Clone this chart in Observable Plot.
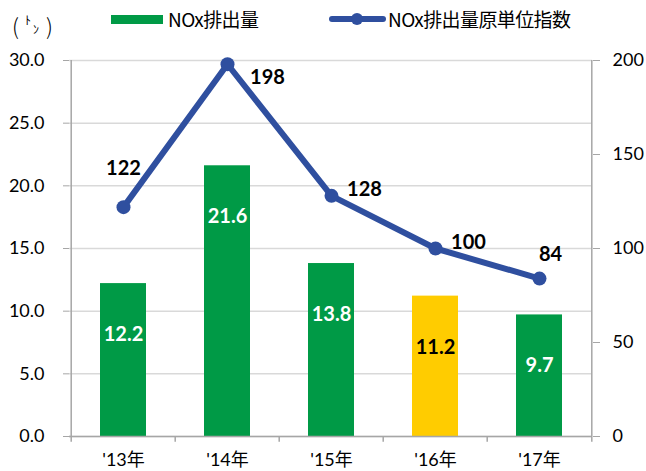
<!DOCTYPE html>
<html>
<head>
<meta charset="utf-8">
<script src="https://cdn.jsdelivr.net/npm/d3@7"></script>
<script src="https://cdn.jsdelivr.net/npm/@observablehq/plot@0.6"></script>
<style>
  html, body { margin: 0; padding: 0; background: #fff; }
  #wrap { position: relative; width: 646px; height: 471px; overflow: hidden; font-family: Lato, "Noto Sans CJK JP", sans-serif; }
  #legend { position: absolute; left: 0; top: 0; width: 646px; height: 45px; }
  #legend .t { position: absolute; font-size: 19px; line-height: 20px; color: #000; white-space: nowrap; font-family: "Noto Sans CJK JP", sans-serif; letter-spacing: -0.6px; }
  #legend .u { position: absolute; color: #000; white-space: nowrap; font-family: "Noto Sans CJK JP", sans-serif; }
  #chart { position: absolute; left: 0; top: 45px; }
</style>
</head>
<body>
<div id="wrap">
  <div id="legend">
    <div class="u" style="left:12px; top:12px; font-size:22px; line-height:26px; font-weight:300;">(</div>
    <div class="u" style="left:25px; top:14px; font-size:12px; line-height:12px;">ﾄ</div>
    <div class="u" style="left:33px; top:23px; font-size:12px; line-height:12px;">ﾝ</div>
    <div class="u" style="left:46px; top:12px; font-size:22px; line-height:26px; font-weight:300;">)</div>
    <div style="position:absolute; left:111px; top:15px; width:52px; height:9px; background:#009A46;"></div>
    <div class="t" style="left:168px; top:9px;">NOx排出量</div>
    <div style="position:absolute; left:329px; top:16px; width:57px; height:6px; background:#2F4F9F; border-radius:3px;"></div>
    <div style="position:absolute; left:351px; top:13px; width:12px; height:12px; background:#2F4F9F; border-radius:50%;"></div>
    <div class="t" style="left:388px; top:9px;">NOx排出量原単位指数</div>
  </div>
  <div id="chart"></div>
</div>
<script>
const years = ["'13年", "'14年", "'15年", "'16年", "'17年"];
const noxTons = [12.2, 21.6, 13.8, 11.2, 9.7];
const noxIndex = [122, 198, 128, 100, 84];
const leftTicks = [0, 5, 10, 15, 20, 25, 30];
const rightTicks = [0, 50, 100, 150, 200];
const highlightYear = "'16年";

const GREEN = "#009A46", YELLOW = "#FFCC00", BLUE = "#2F4F9F", AXIS = "#a6a6a6", GRID = "#d9d9d9";
const ratio = 30 / 200;
const data = years.map((year, i) => ({year, tons: noxTons[i], index: noxIndex[i], i}));

const width = 646, height = 426, mL = 69, mR = 54, mT = 15, mB = 35;
const pIn = 0.56, pOut = 0.28;
const step = (width - mL - mR) / (years.length - pIn + 2 * pOut);
const half = step / 2;

const labelFont = {fontSize: 20, fontWeight: "bold", fontFamily: "Lato, 'Noto Sans CJK JP', sans-serif"};

const chart = Plot.plot({
  width, height,
  marginLeft: mL, marginRight: mR, marginTop: mT, marginBottom: mB,
  style: {fontFamily: "Lato, 'Noto Sans CJK JP', sans-serif", background: "#fff", overflow: "visible"},
  x: {type: "band", domain: years, paddingInner: pIn, paddingOuter: pOut, label: null},
  y: {domain: [0, 30], label: null},
  marks: [
    Plot.gridY(leftTicks, {stroke: GRID, strokeOpacity: 1, strokeWidth: 1.5}),
    Plot.barY(data, {x: "year", y: "tons", fill: d => d.year === highlightYear ? YELLOW : GREEN}),
    // frame lines
    Plot.ruleY([0], {stroke: AXIS, strokeWidth: 1.5}),
    Plot.ruleX([years[0]], {y1: 0, y2: 30, dx: -half, stroke: AXIS, strokeWidth: 1.5}),
    Plot.ruleX([years[years.length - 1]], {y1: 0, y2: 30, dx: half, stroke: AXIS, strokeWidth: 1.5}),
    // category boundary ticks
    Plot.ruleX(years, {y1: 0, y2: -0.45, dx: -half, stroke: AXIS, strokeWidth: 1.5}),
    Plot.ruleX([years[years.length - 1]], {y1: 0, y2: -0.45, dx: half, stroke: AXIS, strokeWidth: 1.5}),
    Plot.axisY(leftTicks, {anchor: "left", tickSize: 6, tickPadding: 19, stroke: AXIS, fill: "#000", fontSize: 18, tickFormat: d => d.toFixed(1)}),
    Plot.axisY(rightTicks.map(v => v * ratio), {anchor: "right", tickSize: 7, tickPadding: 13, stroke: AXIS, fill: "#000", fontSize: 18, tickFormat: d => String(Math.round(d / ratio))}),
    Plot.axisX({tickSize: 0, tickPadding: 17, fontSize: 18, fill: "#000"}),
    // bar labels
    Plot.text(data, {x: "year", y: "tons", dy: 51, text: d => d.tons.toFixed(1), fill: d => d.year === highlightYear ? "#000" : "#fff", ...labelFont}),
    // line
    Plot.line(data, {x: "year", y: d => d.index * ratio, stroke: BLUE, strokeWidth: 6, strokeLinejoin: "round", strokeLinecap: "round"}),
    Plot.dot(data, {x: "year", y: d => d.index * ratio, r: 7, fill: BLUE, stroke: null}),
    // line labels
    Plot.text(data.filter(d => d.i === 0), {x: "year", y: d => d.index * ratio, dy: -39, text: d => String(d.index), fill: "#000", ...labelFont}),
    Plot.text(data.filter(d => d.i === 1), {x: "year", y: d => d.index * ratio, dx: 40, dy: 13, text: d => String(d.index), fill: "#000", ...labelFont}),
    Plot.text(data.filter(d => d.i === 2 || d.i === 3), {x: "year", y: d => d.index * ratio, dx: 33, dy: -6, text: d => String(d.index), fill: "#000", ...labelFont}),
    Plot.text(data.filter(d => d.i === 4), {x: "year", y: d => d.index * ratio, dx: 11, dy: -24, text: d => String(d.index), fill: "#000", ...labelFont})
  ]
});
document.getElementById("chart").appendChild(chart);
</script>
</body>
</html>
